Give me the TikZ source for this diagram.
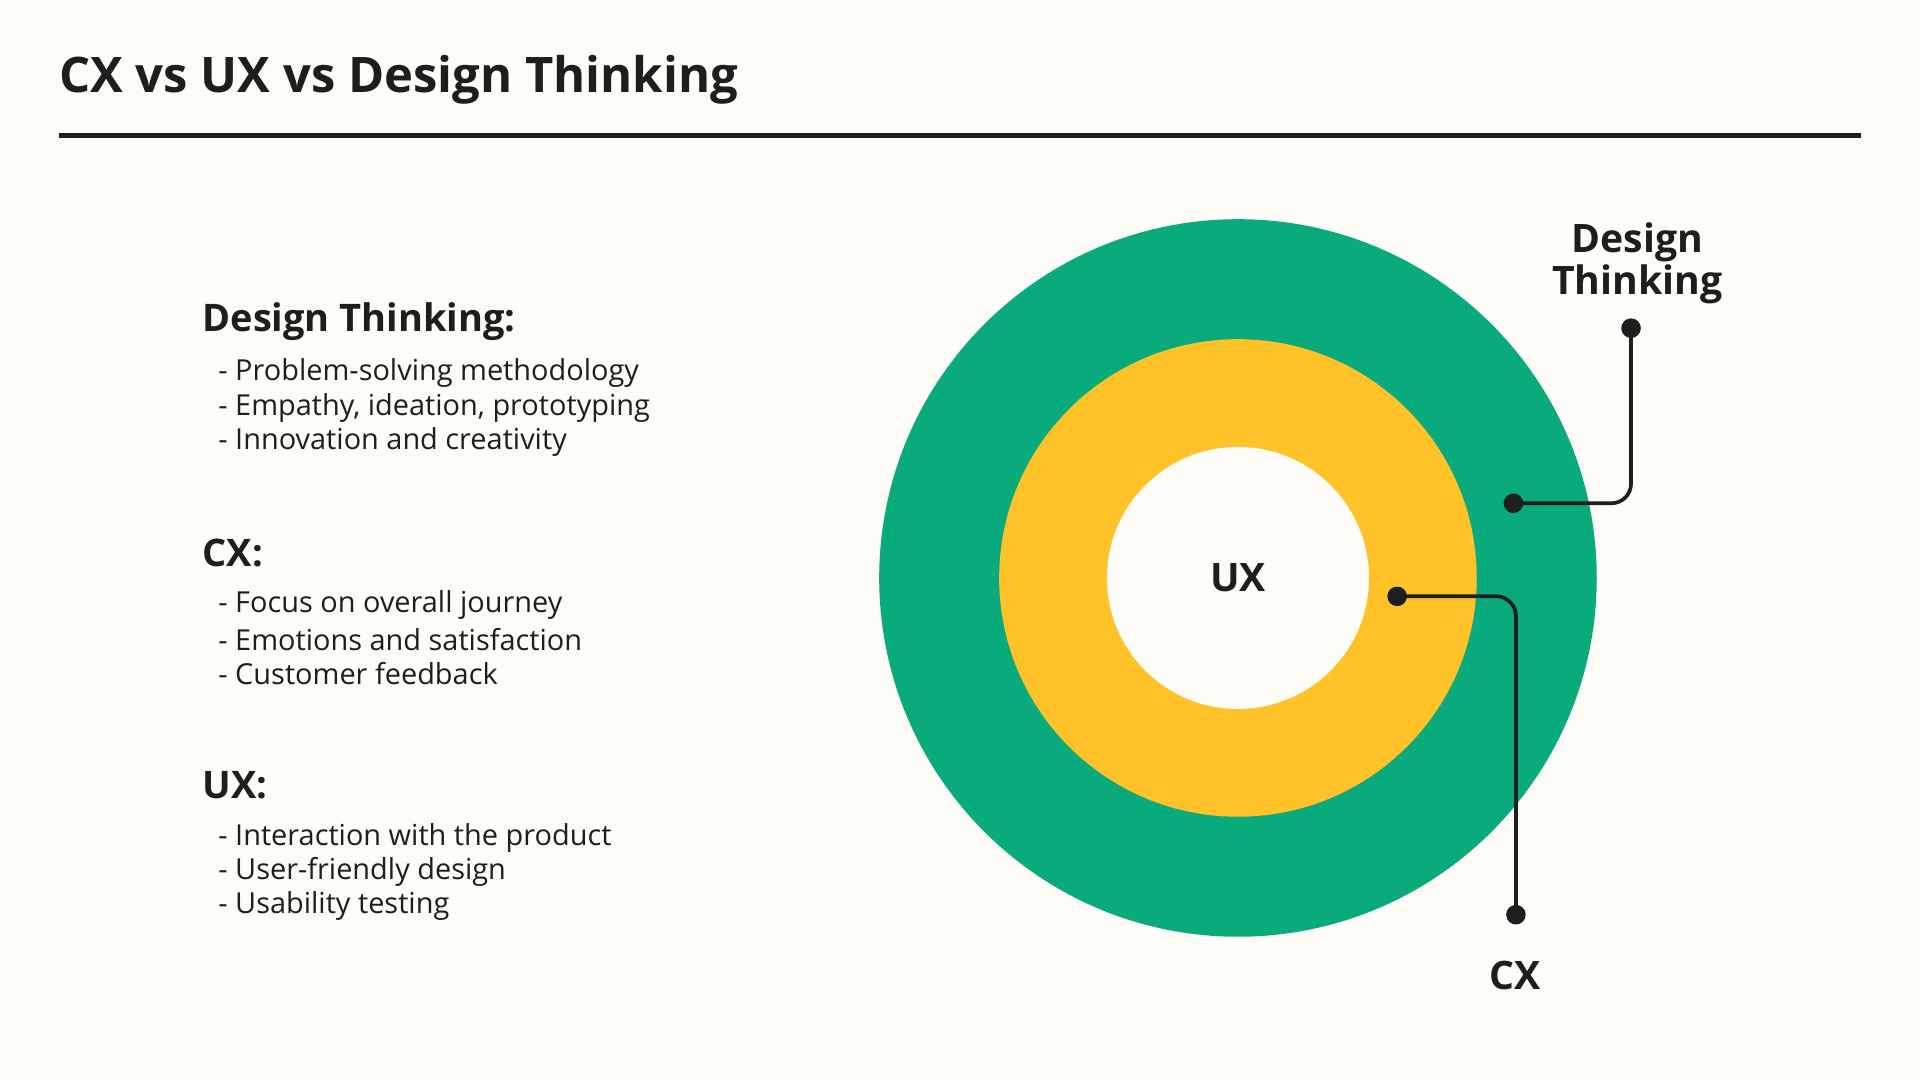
\documentclass[tikz,border=0pt]{standalone}
\usepackage{fontspec}
\setmainfont{Open Sans}
\definecolor{bg}{HTML}{FEFCF7}
\definecolor{ink}{HTML}{1E1E1E}
\definecolor{grn}{HTML}{09AA7C}
\definecolor{yel}{HTML}{FFC229}
\begin{document}
\begin{tikzpicture}[x=0.5pt,y=-0.5pt,
  head/.style={anchor=west,font=\fontsize{15.5}{18}\selectfont\bfseries,text=ink,inner sep=0},
  item/.style={anchor=west,font=\fontsize{11.8}{14}\selectfont,text=ink,inner sep=0},
  lbl/.style={font=\fontsize{16}{19}\selectfont\bfseries,text=ink,align=center,inner sep=0},
  dot/.style={circle,fill=ink,minimum size=8pt,inner sep=0},
  conn/.style={draw=ink,line width=1.5pt,rounded corners=8pt}]
\fill[bg] (0,0) rectangle (1568,882);
\useasboundingbox (0,0) rectangle (1568,882);
\node[anchor=west,inner sep=0,font=\fontsize{20}{24}\selectfont\bfseries,text=ink] (title) at (48,65) {CX vs UX vs Design Thinking};
\coordinate (l1) at (48,111); \coordinate (l2) at (1520,111);
\draw[ink,line width=2pt] (l1) -- (l2);
\node[head] (h1) at (165,263) {Design Thinking:};
\node[item] (a1) at (178,305) {- Problem-solving methodology};
\node[item] (a2) at (178,333) {- Empathy, ideation, prototyping};
\node[item] (a3) at (178,361) {- Innovation and creativity};
\node[head] (h2) at (165,452) {CX:};
\node[item] (b1) at (178,494) {- Focus on overall journey};
\node[item] (b2) at (178,522) {- Emotions and satisfaction};
\node[item] (b3) at (178,550) {- Customer feedback};
\node[head] (h3) at (165,641) {UX:};
\node[item] (c1) at (178,684) {- Interaction with the product};
\node[item] (c2) at (178,712) {- User-friendly design};
\node[item] (c3) at (178,740) {- Usability testing};
\fill[grn] (1011,472) circle[radius=293];
\fill[yel] (1011,472) circle[radius=195];
\fill[bg] (1011,472) circle[radius=107];
\node[lbl] (ux) at (1011,472) {UX};
\node[dot] (d1) at (1236,411) {};
\node[dot] (d2) at (1332,268) {};
\draw[conn] (d1.center) -- (1332,411) -- (d2.center);
\node[lbl] (dt) at (1337,215) {Design\\[-2pt]Thinking};
\node[dot] (e1) at (1141,487) {};
\node[dot] (e2) at (1238,747) {};
\draw[conn] (e1.center) -- (1238,487) -- (e2.center);
\node[lbl] (cx) at (1237,797) {CX};
\end{tikzpicture}
\end{document}
